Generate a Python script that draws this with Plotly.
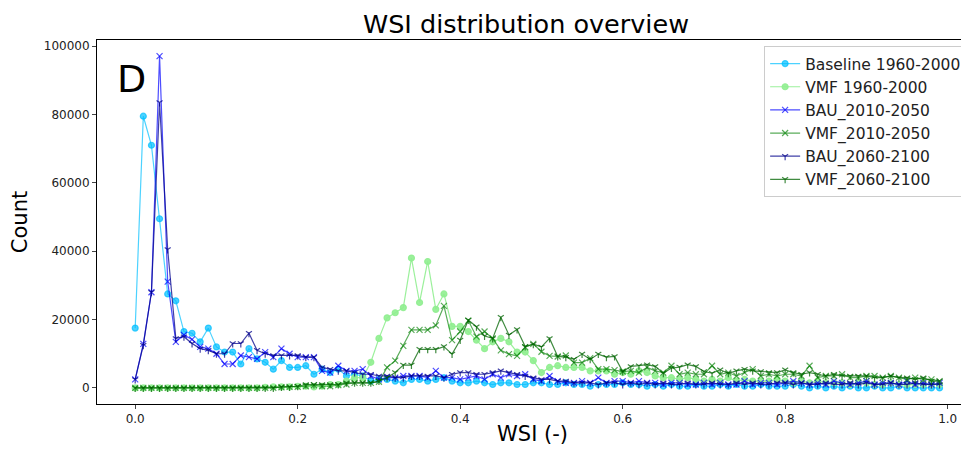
import plotly.graph_objects as go

wsi = [round(i * 0.01, 2) for i in range(100)]

baseline_1960_2000 = [
    17500, 79500, 71000, 49500, 27500, 25500, 16500, 16000, 13500, 17500,
    12000, 10500, 10500, 7000, 11500, 8500, 7500, 5500, 8000, 6000,
    6000, 6500, 4000, 5500, 4500, 5500, 3500, 4000, 3500, 2000,
    2500, 2500, 2000, 1500, 2500, 2500, 2000, 2500, 3000, 2000,
    1500, 1500, 2000, 1500, 1000, 1500, 1500, 1000, 1000, 1500,
    1500, 1000, 1000, 1500, 1000, 1000, 500, 1000, 1000, 1000,
    1500, 1000, 1000, 500, 1000, 500, 1000, 500, 500, 1000,
    500, 500, 1000, 500, 1000, 500, 500, 1000, 500, 500,
    500, 1000, 500, 0, 500, 0, 500, 0, 500, 0,
    0, 500, 0, 0, 500, 0, 0, 0, 0, 0,
]

vmf_1960_2000 = [
    0, 0, 0, 0, 0, 0, 0, 0, 0, 0,
    0, 0, 0, 0, 0, 0, 200, 300, 300, 300,
    500, 500, 300, 500, 1000, 1000, 2000, 3000, 3000, 7500,
    14500, 20500, 22000, 23500, 38000, 25000, 37000, 23000, 27500, 18000,
    18000, 16500, 14000, 11500, 13500, 14500, 13500, 10500, 10500, 8000,
    4500, 6000, 6500, 6000, 6000, 6000, 5000, 5000, 5000, 4000,
    4500, 4000, 5000, 4500, 3500, 3000, 3000, 2500, 3000, 2500,
    2000, 2500, 2000, 3000, 2000, 2500, 2000, 2000, 2000, 2500,
    2000, 1500, 2000, 1500, 2000, 1500, 1500, 1500, 1000, 1500,
    1500, 1000, 1000, 1500, 1000, 1000, 1000, 1000, 1000, 1000,
]

bau_2010_2050 = [
    2500, 12900, 28000, 97100, 31100, 13500, 15500, 14200, 12000, 11500,
    10000, 7000, 7000, 9500, 9000, 8500, 10500, 9000, 11500, 10000,
    9000, 9000, 9000, 5000, 4500, 6500, 5000, 5000, 5500, 3500,
    2500, 3000, 3000, 3500, 3500, 3500, 3000, 5000, 3000, 3000,
    2500, 3000, 3500, 2500, 4000, 3000, 4000, 3500, 4000, 2500,
    2000, 3500, 2000, 1500, 1500, 2000, 1500, 3000, 1500, 2000,
    2000, 1500, 2000, 1500, 1500, 1000, 1500, 1500, 1000, 1000,
    1500, 1000, 1500, 1000, 1000, 2000, 1000, 1500, 1500, 1000,
    1500, 2000, 1500, 1000, 1500, 1000, 2000, 1500, 1000, 1500,
    2000, 1000, 1500, 1500, 1000, 2000, 1000, 1500, 1000, 1500,
]

vmf_2010_2050 = [
    0, 0, 0, 0, 0, 0, 0, 0, 0, 0,
    0, 0, 0, 0, 0, 0, 0, 0, 200, 300,
    300, 500, 800, 500, 500, 800, 1000, 1500, 1500, 1500,
    1800, 6000, 8000, 12300, 17000, 17000, 17000, 18300, 24000, 14000,
    16500, 19700, 15000, 16500, 14500, 11000, 9900, 9400, 11900, 12900,
    10600, 9400, 9200, 9500, 7400, 7400, 8700, 5500, 5500, 5200,
    4800, 5000, 4500, 6000, 5000, 4500, 6500, 4000, 4500, 4000,
    4000, 6500, 4000, 4500, 3500, 4500, 5500, 3500, 4000, 3500,
    4000, 4000, 3500, 6500, 3000, 3500, 3500, 4000, 3000, 3000,
    3500, 3500, 3000, 3500, 3000, 2500, 3000, 2500, 2500, 2000,
]

bau_2060_2100 = [
    2500, 12500, 28000, 83500, 40500, 14500, 15000, 13000, 11500, 11000,
    10000, 10000, 13000, 13000, 16000, 11000, 10000, 9500, 9500, 9500,
    9500, 9000, 9000, 6000, 5500, 5000, 5000, 4500, 4000, 4000,
    3500, 3500, 3000, 3000, 3500, 3500, 3500, 3500, 3000, 4000,
    4500, 4500, 4000, 4000, 4500, 5000, 4500, 4000, 3500, 3000,
    2500, 2500, 2000, 2000, 1500, 1500, 1500, 1000, 1500, 1500,
    1000, 1500, 1000, 1500, 1000, 1500, 1000, 1000, 1500, 1000,
    1000, 1500, 1000, 1000, 1500, 1000, 1500, 1000, 1000, 1500,
    1500, 1000, 1500, 1000, 1000, 1500, 1000, 1000, 1500, 1000,
    1500, 1000, 1000, 1500, 1000, 1000, 1500, 1000, 1000, 1000,
]

vmf_2060_2100 = [
    0, 0, 0, 0, 0, 0, 0, 0, 0, 0,
    0, 0, 0, 0, 0, 0, 0, 0, 300, 300,
    500, 1000, 1000, 1000, 1000, 1000, 1500, 1500, 1500, 1500,
    2000, 3000, 4500, 6700, 6700, 11300, 11300, 11300, 12100, 9900,
    14000, 19900, 17900, 15200, 14500, 20700, 15500, 17100, 12100, 12800,
    12000, 14500, 9200, 9000, 8400, 9900, 8400, 9900, 9000, 9200,
    4800, 6300, 6500, 6800, 6300, 4300, 5800, 6100, 6800, 6300,
    4800, 4300, 5300, 4300, 5000, 5500, 5000, 4800, 4500, 4500,
    5300, 4500, 4000, 4500, 4000, 3500, 4000, 3500, 3500, 3500,
    3500, 3000, 3000, 3500, 3000, 3000, 2500, 3000, 2000, 2000,
]

series = [
    ("Baseline 1960-2000", baseline_1960_2000, "rgba(0,191,255,0.7)", "circle", 6),
    ("VMF 1960-2000", vmf_1960_2000, "rgba(144,238,144,0.9)", "circle", 6),
    ("BAU_2010-2050", bau_2010_2050, "rgba(0,0,255,0.7)", "x-thin-open", 6),
    ("VMF_2010-2050", vmf_2010_2050, "rgba(0,128,0,0.65)", "x-thin-open", 6),
    ("BAU_2060-2100", bau_2060_2100, "rgba(0,0,139,0.75)", "y-down-open", 5),
    ("VMF_2060-2100", vmf_2060_2100, "rgba(0,100,0,0.75)", "y-down-open", 5),
]

fig = go.Figure()
for name, vals, color, sym, size in series:
    fig.add_trace(go.Scatter(
        x=wsi, y=vals, name=name, mode="lines+markers",
        line=dict(color=color, width=1.2),
        marker=dict(symbol=sym, size=size, color=color,
                    line=dict(color=color, width=1.2)),
    ))

fig.add_annotation(text="D", xref="paper", yref="paper", x=0.04, y=0.893,
                   showarrow=False, xanchor="center", yanchor="middle",
                   font=dict(size=38, color="black", family="DejaVu Sans"))

fig.update_layout(
    width=961, height=438,
    margin=dict(l=89, r=1, t=32, b=42, autoexpand=False),
    paper_bgcolor="white", plot_bgcolor="white",
    font=dict(family="DejaVu Sans", color="#222"),
    title=dict(text="WSI distribution overview", x=0.539, xanchor="center",
               y=1 - 16 / 438, yanchor="middle", font=dict(size=25.5, color="black")),
    legend=dict(x=0.999, y=0.9835, xanchor="right", yanchor="top",
                bordercolor="#cccccc", borderwidth=1, bgcolor="rgba(255,255,255,0.8)",
                font=dict(size=15.5, color="#222")),
    xaxis=dict(range=[-0.047, 1.025], tickvals=[0, 0.2, 0.4, 0.6, 0.8, 1.0],
               ticktext=["0.0", "0.2", "0.4", "0.6", "0.8", "1.0"],
               ticks="outside", ticklen=4, showgrid=False, zeroline=False,
               showline=True, mirror=True, linecolor="black", linewidth=1,
               tickfont=dict(size=12),
               title=dict(text="WSI (-)", font=dict(size=21, color="black"), standoff=5)),
    yaxis=dict(range=[-4700, 101800], tickvals=[0, 20000, 40000, 60000, 80000, 100000],
               ticks="outside", ticklen=4, showgrid=False, zeroline=False,
               showline=True, mirror=True, linecolor="black", linewidth=1,
               tickfont=dict(size=12), tickformat="d",
               title=dict(text="Count", font=dict(size=21, color="black"), standoff=12)),
)

fig.write_html("out.html")
